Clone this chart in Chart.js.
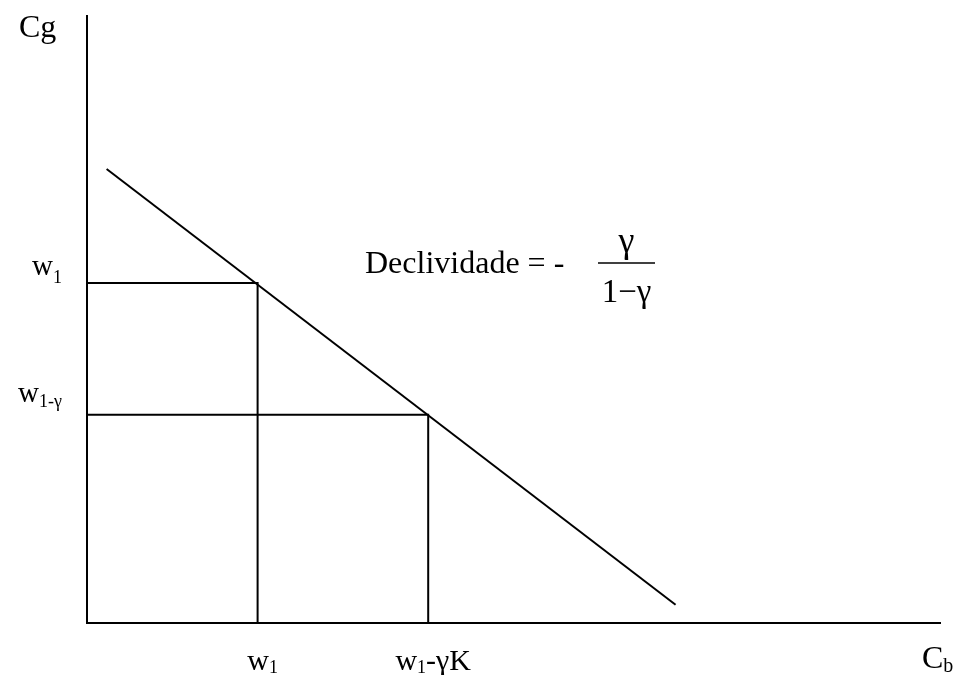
<!DOCTYPE html>
<html>
<head>
<meta charset="utf-8">
<script src="https://cdn.jsdelivr.net/npm/chart.js@4"></script>
<style>
body { margin: 0; background: #fff; }
#wrap { width: 958px; height: 675px; }
</style>
</head>
<body>
<div id="wrap"><canvas id="myChart" width="958" height="675"></canvas></div>
<script>
// budget line end points (abstract units, both axes run 0..100)
const lineX = [2.3, 69];
const lineY = [74.8, 3];
// the two marked points on the line
const pointX = [20, 40];     // w1, w1-γK on the Cb axis
const pointY = [56, 34.3];   // w1, w1-γ on the Cg axis

// tick labels as pieces: [text, isSubscript]
const xTickLabels = [
    [['w', false], ['1', true]],
    [['w', false], ['1', true], ['-γK', false]]
];
const yTickLabels = [
    [['w', false], ['1', true]],
    [['w', false], ['1-γ', true]]
];
const xTitle = [['C', false], ['b', true]];
const yTitle = [['Cg', false]];
const slopeText = 'Declividade = - ';
const slopeNum = 'γ';
const slopeDen = '1\u2212γ';

const serif = "'Liberation Serif', 'Times New Roman', serif";

function pieceWidth(ctx, pieces, big, small) {
    let w = 0;
    pieces.forEach(([t, sub]) => {
        ctx.font = (sub ? small : big) + 'px ' + serif;
        w += ctx.measureText(t).width;
    });
    return w;
}

function drawPieces(ctx, pieces, x, y, align, big, small, drop) {
    const total = pieceWidth(ctx, pieces, big, small);
    let cx = align === 'right' ? x - total : align === 'center' ? x - total / 2 : x;
    pieces.forEach(([t, sub]) => {
        ctx.font = (sub ? small : big) + 'px ' + serif;
        ctx.fillText(t, cx, sub ? y + drop : y);
        cx += ctx.measureText(t).width;
    });
}

const labelPlugin = {
    id: 'labels',
    afterDraw(chart) {
        const ctx = chart.ctx;
        const xs = chart.scales.x, ys = chart.scales.y;
        const area = chart.chartArea;
        ctx.save();
        ctx.fillStyle = '#000';
        ctx.textBaseline = 'alphabetic';

        // y tick labels
        yTickLabels.forEach((lab, i) => {
            const py = ys.getPixelForValue(pointY[i]);
            const off = i === 0 ? -8 : -13;
            drawPieces(ctx, lab, area.left - 25, py + off, 'right', 29, 18, i === 0 ? 8 : 5);
        });
        // x tick labels
        xTickLabels.forEach((lab, i) => {
            const px = xs.getPixelForValue(pointX[i]);
            drawPieces(ctx, lab, px + 5, area.bottom + 47, 'center', 30, 18, 3);
        });
        // axis titles
        drawPieces(ctx, yTitle, 19, 37, 'left', 32, 20, 0);
        drawPieces(ctx, xTitle, 922, 668, 'left', 32, 20, 4);

        // slope annotation
        ctx.font = '32px ' + serif;
        ctx.textAlign = 'left';
        ctx.fillText(slopeText, 365, 273);
        const barL = 598, barR = 655, barY = 263;
        ctx.beginPath();
        ctx.lineWidth = 1.5;
        ctx.moveTo(barL, barY);
        ctx.lineTo(barR, barY);
        ctx.stroke();
        ctx.textAlign = 'center';
        ctx.font = '36px ' + serif;
        ctx.fillText(slopeNum, (barL + barR) / 2, 252);
        ctx.font = '33px ' + serif;
        ctx.fillText(slopeDen, (barL + barR) / 2, 302);
        ctx.restore();
    }
};

const datasets = [
    {
        data: lineX.map((x, i) => ({ x: x, y: lineY[i] })),
        borderColor: '#000',
        borderWidth: 2
    }
];
pointX.forEach((x, i) => {
    datasets.push({
        data: [{ x: 0, y: pointY[i] }, { x: x, y: pointY[i] }, { x: x, y: 0 }],
        borderColor: '#000',
        borderWidth: 2
    });
});

const axisOpts = {
    type: 'linear',
    min: 0,
    max: 100,
    grid: { display: false },
    ticks: { display: false },
    border: { display: true, color: '#000', width: 2 }
};

new Chart(document.getElementById('myChart'), {
    type: 'scatter',
    data: { datasets: datasets },
    options: {
        responsive: false,
        animation: false,
        showLine: true,
        elements: { point: { radius: 0 }, line: { tension: 0 } },
        layout: { padding: { left: 79, right: 18, top: 16, bottom: 44 } },
        scales: { x: axisOpts, y: axisOpts },
        plugins: { legend: { display: false }, tooltip: { enabled: false } }
    },
    plugins: [labelPlugin]
});
</script>
</body>
</html>
